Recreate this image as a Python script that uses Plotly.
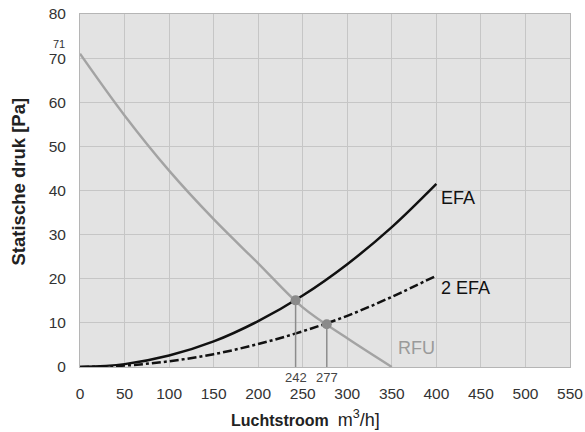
import plotly.graph_objects as go

# Luchtstroom (m3/h) sample points
flow = [0, 50, 100, 150, 200, 250, 300, 350, 400]

# Systeemkarakteristieken (Pa)
efa = [0, 0.65, 2.6, 5.8, 10.4, 16.2, 23.3, 31.7, 41.5]
efa2 = [0, 0.32, 1.3, 2.9, 5.2, 8.1, 11.6, 15.9, 20.7]

# Ventilatorcurve RFU
rfu_flow = [0, 50, 100, 150, 200, 250, 300, 350]
rfu = [71, 57, 44.5, 33.5, 23.5, 13.5, 6.5, 0]

# Werkpunten
op_flow = [242, 277]
op_pressure = [15.1, 9.7]
op_labels = ["242", "277"]

x_ticks = [0, 50, 100, 150, 200, 250, 300, 350, 400, 450, 500, 550]
y_ticks = [0, 10, 20, 30, 40, 50, 60, 70, 80]

narrow = "Liberation Sans Narrow, Arial Narrow, sans-serif"

fig = go.Figure()

fig.add_trace(go.Scatter(
    x=rfu_flow, y=rfu, mode='lines', name='RFU',
    line=dict(color='#a3a3a3', width=2.4, shape='spline'),
))
fig.add_trace(go.Scatter(
    x=flow, y=efa, mode='lines', name='EFA',
    line=dict(color='#111111', width=2.5, shape='spline'),
))
fig.add_trace(go.Scatter(
    x=flow, y=efa2, mode='lines', name='2 EFA',
    line=dict(color='#111111', width=2.5, dash='dashdot', shape='spline'),
))

# drop lines from operating points
for fx, fy in zip(op_flow, op_pressure):
    fig.add_shape(type='line', x0=fx, x1=fx, y0=0, y1=fy,
                  line=dict(color='#8c8c8c', width=1.5), layer='above')

fig.add_trace(go.Scatter(
    x=op_flow, y=op_pressure, mode='markers',
    marker=dict(color='#8a8a8a', size=10), showlegend=False,
))

# curve labels
fig.add_annotation(x=flow[-1], y=efa[-1], text="EFA", showarrow=False,
                   xanchor='left', yanchor='top', xshift=3, yshift=-2,
                   font=dict(size=18, color='#111111'))
fig.add_annotation(x=flow[-1], y=efa2[-1], text="2 EFA", showarrow=False,
                   xanchor='left', yanchor='top', xshift=3, yshift=0,
                   font=dict(size=18, color='#111111'))
fig.add_annotation(x=rfu_flow[-1], y=rfu[-1], text="RFU", showarrow=False,
                   xanchor='center', yanchor='middle', xshift=25, yshift=19,
                   font=dict(size=18, color='#9a9a9a'))

# operating point values under the axis
for fx, lab in zip(op_flow, op_labels):
    fig.add_annotation(x=fx, y=0, text=lab, showarrow=False,
                       yanchor='middle', yshift=-10,
                       font=dict(family=narrow, size=13, color='#444444'))

# "71" above the 70 tick
fig.add_annotation(x=0, y=rfu[0], text="71", showarrow=False,
                   xanchor='right', yanchor='middle', xshift=-13, yshift=10,
                   font=dict(size=11, color='#333333'))

# axis titles, placed as in the original
fig.add_annotation(xref='paper', yref='paper', x=0.46, y=0,
                   text="<b>Luchtstroom</b>  <span style='font-size:18px'>m<sup>3</sup>/h]</span>",
                   showarrow=False, yanchor='middle', yshift=-51,
                   font=dict(family=narrow, size=16, color='#222222'))
fig.add_annotation(xref='paper', yref='paper', x=0, y=0.5, textangle=-90,
                   text="<b>Statische druk [Pa]</b>",
                   showarrow=False, xanchor='center', yanchor='middle',
                   xshift=-62, yshift=9,
                   font=dict(family=narrow, size=18.5, color='#222222'))

fig.update_layout(
    width=585, height=432,
    paper_bgcolor='white',
    plot_bgcolor='#e3e3e3',
    margin=dict(l=80, r=15, t=14, b=65, autoexpand=False),
    showlegend=False,
    font=dict(family='Arial, Liberation Sans, sans-serif', size=15.5, color='#333333'),
)
fig.update_xaxes(
    range=[0, 550], tickvals=x_ticks, ticks='', showgrid=True,
    gridcolor='#c6c6c6', gridwidth=1.2, zeroline=False,
    showline=True, linecolor='#b5b5b5', mirror=True, automargin=False,
    ticklabelstandoff=12, ticklabeloverflow='allow',
)
fig.update_yaxes(
    range=[0, 80], tickvals=y_ticks, ticks='', showgrid=True,
    gridcolor='#c6c6c6', gridwidth=1.2, zeroline=False,
    showline=True, linecolor='#b5b5b5', mirror=True, automargin=False,
    ticklabelstandoff=10, ticklabeloverflow='allow',
)

# page has no body margin so the figure sits at the window's top-left corner
fig.write_html("out.html", config={'displayModeBar': False},
               post_script="document.body.style.margin='0';")
